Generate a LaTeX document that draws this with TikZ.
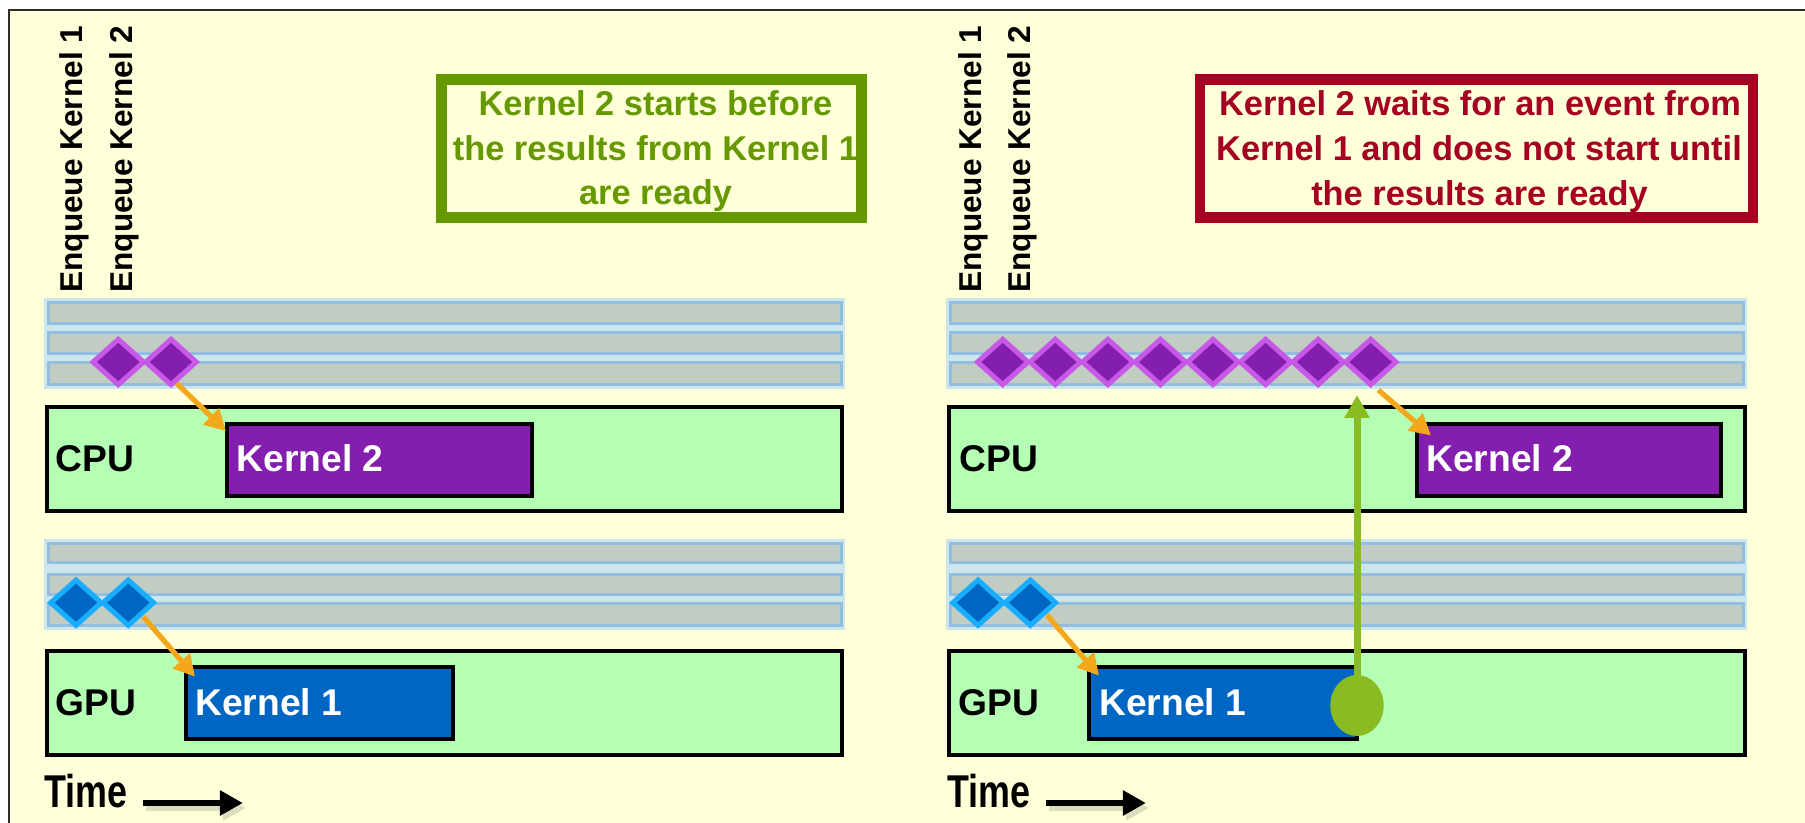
\documentclass[tikz,border=0pt]{standalone}
\usepackage{fontspec}
\setmainfont{Liberation Sans}
\newfontfamily\timefont{Liberation Sans}[FakeStretch=0.78]
\usetikzlibrary{arrows.meta,calc,shapes.geometric}
\definecolor{bgy}{RGB}{255,255,217}
\definecolor{framec}{RGB}{45,45,45}
\definecolor{paleb}{RGB}{204,230,238}
\definecolor{barb}{RGB}{147,190,221}
\definecolor{barf}{RGB}{193,205,194}
\definecolor{laneg}{RGB}{181,255,181}
\definecolor{purp}{RGB}{132,30,174}
\definecolor{purpb}{RGB}{200,88,230}
\definecolor{bluek}{RGB}{0,102,196}
\definecolor{blueb}{RGB}{25,173,255}
\definecolor{orng}{RGB}{243,168,28}
\definecolor{calg}{RGB}{102,153,0}
\definecolor{calr}{RGB}{165,0,33}
\definecolor{evg}{RGB}{139,187,34}
\definecolor{shadowc}{RGB}{222,222,190}
\begin{document}
\begin{tikzpicture}[x=0.5pt,y=-0.5pt,
  lane/.style={draw=black, line width=2pt, fill=laneg, inner sep=0pt, minimum height=52pt},
  kbox/.style={draw=black, line width=2pt, inner sep=0pt, minimum height=36pt},
  dia/.style={diamond, inner sep=0pt, minimum width=26.25pt, minimum height=23.65pt, line width=2.5pt},
  pdia/.style={dia, fill=purp, draw=purpb},
  bdia/.style={dia, fill=bluek, draw=blueb},
  lbl/.style={font=\fontsize{18.6pt}{20pt}\selectfont\bfseries, inner sep=0pt, anchor=base west},
  enq/.style={font=\fontsize{15.8pt}{18pt}\selectfont\bfseries, inner sep=0pt, rotate=90, anchor=base west},
  callt/.style={font=\fontsize{17.2pt}{20pt}\selectfont\bfseries, inner sep=0pt, anchor=base},
  callbox/.style={line width=5.35pt, inner sep=0pt, minimum height=68.85pt},
  timel/.style={font=\fontsize{23pt}{25pt}\timefont\bfseries, inner sep=0pt, anchor=base west},
  oarr/.style={draw=orng, line width=2.6pt, -{Triangle[length=10.5pt,width=11pt]}},
  garr/.style={draw=evg, line width=3.5pt, -{Triangle[length=11.5pt,width=12pt]}},
  tarr/.style={line width=3pt, -{Triangle[length=11.5pt,width=12pt]}}
]
\useasboundingbox (0,0) rectangle (1805,823);
% background and frame
\fill[white] (0,0) rectangle (1805,823);
\fill[bgy] (9,10) rectangle (1805,823);
\draw[framec, line width=1.25pt] (9,823) -- (9,10) -- (1805,10);

% callouts
\node[callbox, draw=calg, minimum width=210pt] (gbox) at (651.35,148.5) {};
\node[callt, text=calg] (g1) at (655.5,115.3) {Kernel 2 starts before};
\node[callt, text=calg] (g2) at (655.5,160.3) {the results from Kernel 1};
\node[callt, text=calg] (g3) at (655.5,204.3) {are ready};
\node[callbox, draw=calr, minimum width=276.5pt] (rbox) at (1476.5,148.5) {};
\node[callt, text=calr] (r1) at (1480,116) {Kernel 2 waits for an event from};
\node[callt, text=calr] (r2) at (1479,161) {Kernel 1 and does not start until};
\node[callt, text=calr] (r3) at (1479.5,205.3) {the results are ready};

% enqueue labels
\node[enq] (eL1) at (82,293) {Enqueue Kernel 1};
\node[enq] (eL2) at (132,293) {Enqueue Kernel 2};
\node[enq] (eR1) at (981,293) {Enqueue Kernel 1};
\node[enq] (eR2) at (1030,293) {Enqueue Kernel 2};

% queue bars
\foreach \ox in {0,902}{
  \begin{scope}[xshift=\ox*0.5pt]
    \fill[paleb] (44,298) rectangle (845,389);
    \fill[paleb] (44,539) rectangle (845,630);
    \foreach \ya/\yb in {302.5/323.5, 332.5/353.5, 362.5/384.5, 543.5/562.5, 574.5/594.5, 603.5/625.5}{
      \draw[barb, fill=barf, line width=1.5pt] (48.2,\ya) rectangle (841.5,\yb);
    }
  \end{scope}
}

% CPU / GPU lanes
\node[lane, minimum width=397.5pt] (cpuL) at (444.5,459) {};
\node[lane, minimum width=397.5pt] (gpuL) at (444.5,703) {};
\node[lane, minimum width=398pt] (cpuR) at (1347,459) {};
\node[lane, minimum width=398pt] (gpuR) at (1347,703) {};
\node[lbl] (cpuLt) at (55.5,472) {CPU};
\node[lbl] (gpuLt) at (55,715) {GPU};
\node[lbl] (cpuRt) at (959,472) {CPU};
\node[lbl] (gpuRt) at (958,715) {GPU};

% kernels
\node[kbox, fill=purp, minimum width=152.5pt] (kL2) at (379.5,460) {};
\node[kbox, fill=bluek, minimum width=133.5pt] (kL1) at (319.5,703) {};
\node[kbox, fill=purp, minimum width=152pt] (kR2) at (1569,460) {};
\node[kbox, fill=bluek, minimum width=134pt] (kR1) at (1223,703) {};
\node[lbl, text=white] (kL2t) at (236.5,472) {Kernel 2};
\node[lbl, text=white] (kL1t) at (195,715) {Kernel 1};
\node[lbl, text=white] (kR2t) at (1426,472) {Kernel 2};
\node[lbl, text=white] (kR1t) at (1099,715) {Kernel 1};

% events (diamonds)
\node[pdia] (pL1) at (118.3,362) {};
\node[pdia] (pL2) at (171,362) {};
\node[bdia] (bL1) at (76,602.7) {};
\node[bdia] (bL2) at (128.3,602.7) {};
\foreach \i in {1,...,8}{
  \node[pdia] (pR\i) at ({1002.7+52.57*(\i-1)},362) {};
}
\node[bdia] (bR1) at (978,602.7) {};
\node[bdia] (bR2) at (1030.3,602.7) {};

% orange launch arrows
\draw[oarr] ($(pL2.center)+(5.7,21.3)$) -- ($(kL2.north west)+(1,9)$);
\draw[oarr] ($(bL2.center)+(15,14)$) -- ($(kL1.north west)+(11,11.7)$);
\draw[oarr] ($(pR8.center)+(7.6,28)$) -- ($(kR2.north west)+(16,13.5)$);
\draw[oarr] ($(bR2.center)+(16.7,12.3)$) -- ($(kR1.north west)+(12,10.7)$);

% completion event
\node[ellipse, fill=evg, inner sep=0pt, minimum width=26.7pt, minimum height=30.5pt] (ev) at (1357,705.5) {};
\coordinate (evtip) at (1357,395);
\draw[garr] ($(ev.north)+(0,10)$) -- (evtip);

% time axes
\node[timel] (tL) at (44,807) {Time};
\node[timel] (tR) at (947,807) {Time};
\draw[tarr, draw=shadowc] ($(tL.base east)+(18,1)$) -- ++(100,0);
\draw[tarr, draw=shadowc] ($(tR.base east)+(18,1)$) -- ++(100,0);
\draw[tarr] ($(tL.base east)+(15,-4)$) -- ++(100,0);
\draw[tarr] ($(tR.base east)+(15,-4)$) -- ++(100,0);
\end{tikzpicture}
\end{document}
